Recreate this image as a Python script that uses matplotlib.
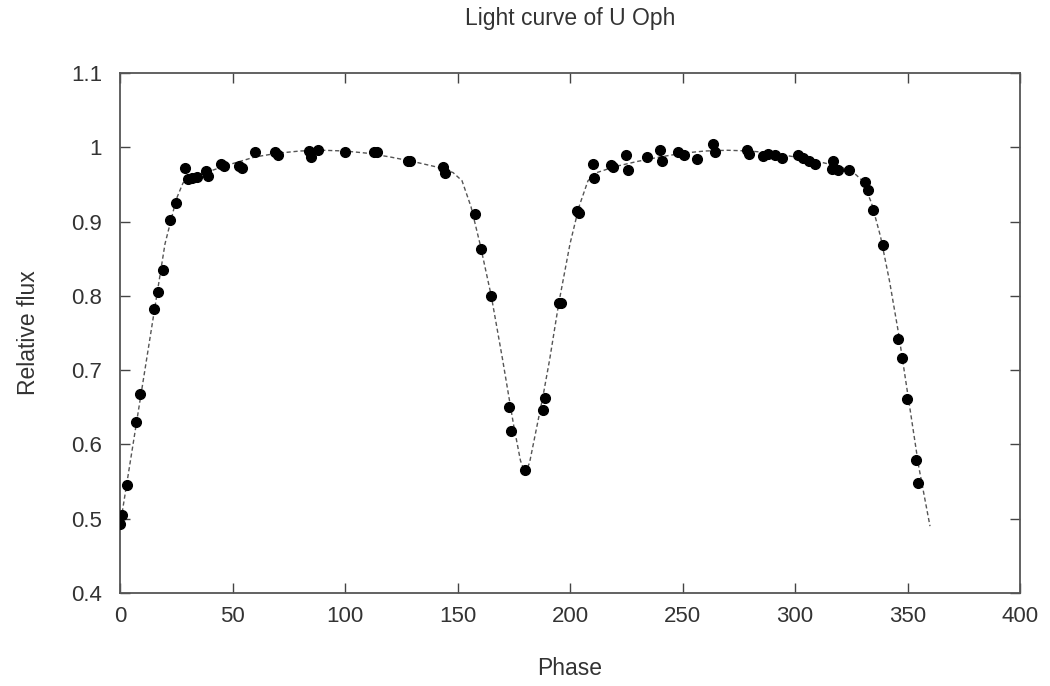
import matplotlib
matplotlib.use("Agg")
import matplotlib.pyplot as plt
from matplotlib.ticker import FuncFormatter

# Observed points (phase, relative flux)
obs_phase = [0, 1, 3, 7, 9, 15, 17, 19, 22, 25, 29, 30, 32, 34, 38, 39, 45, 46, 53, 54,
             60, 69, 70, 84, 85, 88, 100, 113, 114, 128, 129, 143.6, 144.5,
             157.8, 160.4, 164.9, 172.9, 173.8, 180, 187.8, 188.9, 195, 196,
             203, 204, 210, 210.8, 218, 219, 225, 225.6, 234, 240, 241, 248, 250.7,
             256.3, 263.4, 264.4, 278.5, 279.7, 285.9, 288, 291, 294, 301.5, 303.7,
             306, 309, 316.3, 317, 319.3, 324.1, 331.1, 332.6, 334.8, 339,
             345.9, 347.4, 349.9, 353.8, 354.8]
obs_flux = [0.493, 0.505, 0.545, 0.630, 0.668, 0.782, 0.805, 0.835, 0.902, 0.925, 0.972,
            0.957, 0.958, 0.960, 0.968, 0.962, 0.978, 0.975, 0.975, 0.972,
            0.993, 0.993, 0.990, 0.995, 0.987, 0.997, 0.993, 0.994, 0.993, 0.982, 0.981,
            0.973, 0.966, 0.910, 0.863, 0.800, 0.650, 0.618, 0.566, 0.647, 0.662,
            0.790, 0.791, 0.914, 0.912, 0.978, 0.958, 0.976, 0.974, 0.990, 0.970, 0.987,
            0.996, 0.982, 0.994, 0.989, 0.984, 1.004, 0.994, 0.996, 0.991, 0.988, 0.991,
            0.989, 0.985, 0.989, 0.986, 0.982, 0.978, 0.971, 0.982, 0.969, 0.970,
            0.953, 0.942, 0.916, 0.869, 0.742, 0.716, 0.661, 0.579, 0.548]

# Model curve nodes
model_phase = [0, 5, 10, 15, 20, 25, 28, 32, 40, 50, 60, 70, 80, 90, 100, 110, 120,
               130, 140, 148, 152, 156, 160, 165, 170, 175, 178, 180, 182, 185, 188,
               191, 195, 200, 204, 208, 212, 220, 230, 240, 250, 260, 270, 280, 290,
               300, 310, 320, 326, 330, 334, 338, 342, 346, 350, 355, 360]
model_flux = [0.490, 0.585, 0.680, 0.775, 0.870, 0.930, 0.952, 0.960, 0.968, 0.978,
              0.987, 0.992, 0.995, 0.996, 0.995, 0.992, 0.987, 0.981, 0.974, 0.966,
              0.955, 0.920, 0.870, 0.800, 0.715, 0.625, 0.578, 0.562, 0.575, 0.620,
              0.665, 0.715, 0.790, 0.870, 0.920, 0.955, 0.966, 0.974, 0.981, 0.987,
              0.992, 0.995, 0.996, 0.995, 0.992, 0.987, 0.981, 0.974, 0.966, 0.955,
              0.925, 0.880, 0.820, 0.750, 0.670, 0.570, 0.490]

x_ticks = [0, 50, 100, 150, 200, 250, 300, 350, 400]
y_ticks = [0.4, 0.5, 0.6, 0.7, 0.8, 0.9, 1.0, 1.1]

plt.rcParams['font.family'] = ['Liberation Sans', 'DejaVu Sans']

fig = plt.figure(figsize=(10.5, 6.86), dpi=100)
ax = fig.add_axes([120/1050, 1 - 593/686, 900/1050, (593-73)/686])

ax.plot(model_phase, model_flux, linestyle=(0, (3, 2)), color='#555555', linewidth=1.0, zorder=2)
ax.plot(obs_phase, obs_flux, 'o', color='black', markersize=7, zorder=3)

ax.set_xlim(0, 400)
ax.set_ylim(0.4, 1.1)
ax.set_xticks(x_ticks)
ax.set_yticks(y_ticks)
ax.yaxis.set_major_formatter(FuncFormatter(lambda v, p: ('%g' % round(v, 2))))
ax.tick_params(direction='in', top=True, right=True, length=7, width=1,
               colors='#444444', labelcolor='#333333', labelsize=16)
ax.tick_params(axis='x', pad=9)
ax.tick_params(axis='y', pad=13)
for s in ax.spines.values():
    s.set_color('#555555')
    s.set_linewidth(1.3)

ax.set_xlabel('Phase', fontsize=16.5, color='#333333', labelpad=22)
ax.set_ylabel('Relative flux', fontsize=16.5, color='#333333', labelpad=22)
fig.text(570/1050, 1 - 19/686, 'Light curve of U Oph', ha='center', va='center',
         fontsize=16.5, color='#333333')

fig.savefig('out.png', dpi=100)
